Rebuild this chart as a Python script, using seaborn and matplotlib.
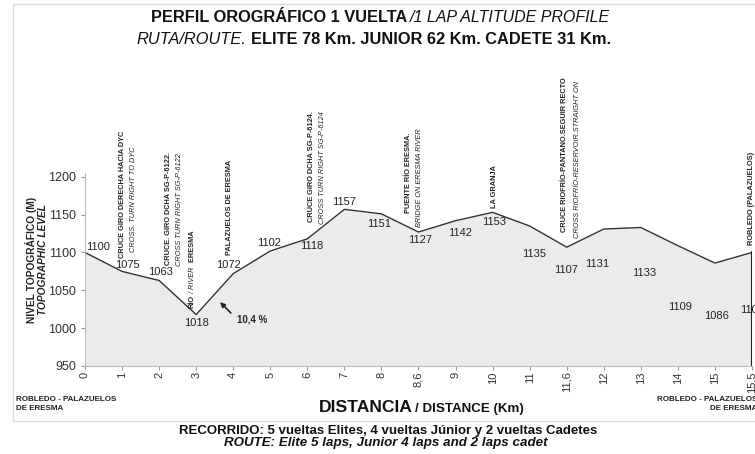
import matplotlib
matplotlib.use("Agg")
import matplotlib.pyplot as plt
import matplotlib.patches as mpatches
import numpy as np
import pandas as pd
import seaborn as sns

# distance marks along the lap (categorical axis) and altitude at each one
km_labels = ["0", "1", "2", "3", "4", "5", "6", "7", "8", "8,6", "9",
             "10", "11", "11,6", "12", "13", "14", "15", "15,5"]
altitude = [1100, 1075, 1063, 1018, 1072, 1102, 1118, 1157, 1151, 1127,
            1142, 1153, 1135, 1107, 1131, 1133, 1109, 1086, 1100]
# printed value labels (last one cut off in the original)
value_text = [str(v) for v in altitude]

# where the value labels sit relative to their point (pixels)
label_offsets = [(13, 5), (5, 6), (1, 8), (0, -8), (-5, 9), (-1, 8), (4, -7),
                 (0, 7), (-2, -10), (2, -8), (5, -12), (1, -10), (4, -28),
                 (-1, -23), (-7, -35), (3, -46), (2, -61), (2, -53), (0, -58)]

# vertical notes: (x position, bottom y, text, weight, style)
notes = [
    (1.0, 1093, "CRUCE GIRO DERECHA HACIA DYC", "bold", "normal"),
    (1.30, 1100, "CROSS. TURN RIGHT TO DYC", "normal", "italic"),
    (2.24, 1083, "CRUCE. GIRO DCHA SG-P-6122.", "bold", "normal"),
    (2.54, 1082, "CROSS TURN RIGHT SG-P-6122", "normal", "italic"),
    (3.91, 1097, "PALAZUELOS DE ERESMA", "bold", "normal"),
    (6.10, 1140, "CRUCE GIRO DCHA SG-P-6124.", "bold", "normal"),
    (6.40, 1138, "CROSS TURN RIGHT SG-P-6124", "normal", "italic"),
    (8.72, 1152, "PUENTE RÍO ERESMA.", "bold", "normal"),
    (9.04, 1134, "BRIDGE ON ERESMA RIVER", "normal", "italic"),
    (11.06, 1159, "LA GRANJA", "bold", "normal"),
    (12.95, 1127, "CRUCE RIOFRÍO-PANTANO.SEGUIR RECTO", "bold", "normal"),
    (13.30, 1119, "CROSS RIOFRÍO-RESERVOIR.STRAIGHT ON", "normal", "italic"),
    (18.0, 1110, "ROBLEDO (PALAZUELOS)", "bold", "normal"),
]

sns.set_style("white")
plt.rcParams['font.family'] = ['Liberation Sans', 'DejaVu Sans']
NOTE_FS = 5.3

df = pd.DataFrame({"pos": np.arange(len(altitude)), "alt": altitude})

fig = plt.figure(figsize=(7.55, 4.54), dpi=100)
ax = fig.add_axes([85 / 755, 1 - 366 / 454, 667 / 755, 193 / 454])

# light frame around the whole chart
fig.patches.append(mpatches.Rectangle((13 / 755, 1 - 421 / 454), 1.0, 417 / 454,
                                      transform=fig.transFigure, fill=False,
                                      edgecolor="#dcdcdc", lw=1))

ax.fill_between(df["pos"], df["alt"], 950, color="#ebebeb", lw=0)
sns.lineplot(data=df, x="pos", y="alt", ax=ax, color="#333333", lw=1)
ax.plot([df["pos"].iloc[-1]] * 2, [df["alt"].iloc[-1], 950], color="#222222", lw=1.5)

ax.set_xlim(0, len(altitude) - 1)
ax.set_ylim(950, 1205)
ax.set_yticks(range(950, 1201, 50))
ax.set_xticks(df["pos"])
ax.set_xticklabels(km_labels, rotation=90, fontsize=8, color="#333333")
ax.tick_params(axis="y", labelsize=9, colors="#333333", length=3, left=True, color="#999999")
ax.tick_params(axis="x", length=3, bottom=True, color="#999999", pad=1)
ax.set_xlabel("")
ax.set_ylabel("")
for s in ["top", "right"]:
    ax.spines[s].set_visible(False)
ax.spines["left"].set_color("#bbbbbb")
ax.spines["bottom"].set_color("#bbbbbb")

for i, (txt, off) in enumerate(zip(value_text, label_offsets)):
    ax.annotate(txt, (df["pos"].iloc[i], df["alt"].iloc[i]), xytext=off,
                textcoords="offset pixels", ha="center", va="center",
                fontsize=8, color="#222222", annotation_clip=False)

for x, y, txt, w, st in notes:
    ax.text(x, y, txt, rotation=90, ha="center", va="bottom", fontsize=NOTE_FS,
            fontweight=w, fontstyle=st, color="#222222", clip_on=False)

# "RÍO / RIVER  ERESMA" mixed styles, stacked upward
t1 = ax.text(2.89, 1027, "RÍO", rotation=90, ha="center", va="bottom", fontsize=NOTE_FS,
             fontweight="bold", color="#222222")
t2 = ax.annotate(" / RIVER ", xy=(0.5, 1), xycoords=t1, rotation=90, ha="center",
                 va="bottom", fontsize=NOTE_FS, fontstyle="italic", color="#222222")
ax.annotate(" ERESMA", xy=(0.5, 1), xycoords=t2, rotation=90, ha="center",
            va="bottom", fontsize=NOTE_FS, fontweight="bold", color="#222222")

# slope arrow
ax.annotate("", xy=(3.59, 1037), xytext=(3.99, 1017.5),
            arrowprops=dict(arrowstyle="-|>", color="#222222", lw=1.2, mutation_scale=7))
ax.text(4.1, 1011, "10,4 %", fontsize=7, fontweight="bold", va="center", ha="left", color="#222222")

# y axis title
fig.text(31 / 755, 1 - 260 / 454, "NIVEL TOPOGRÁFICO (M)", rotation=90, ha="center",
         va="center", fontsize=7.4, fontweight="bold", color="#222222")
fig.text(43 / 755, 1 - 260 / 454, "TOPOGRAPHIC LEVEL", rotation=90, ha="center",
         va="center", fontsize=7.3, fontweight="bold", fontstyle="italic", color="#222222")

# titles
fig.text(407 / 755, 1 - 18 / 454, "PERFIL OROGRÁFICO 1 VUELTA", ha="right", va="center",
         fontsize=11.8, fontweight="bold", color="#111111")
fig.text(410 / 755, 1 - 18 / 454, "/1 LAP ALTITUDE PROFILE", ha="left", va="center",
         fontsize=11.5, fontstyle="italic", color="#111111")
fig.text(246 / 755, 1 - 40 / 454, "RUTA/ROUTE.", ha="right", va="center",
         fontsize=11.8, fontstyle="italic", color="#111111")
fig.text(251 / 755, 1 - 40 / 454, "ELITE 78 Km. JUNIOR 62 Km. CADETE 31 Km.", ha="left",
         va="center", fontsize=11.8, fontweight="bold", color="#111111")

# start / finish names and x axis title
fig.text(16 / 755, 1 - 404 / 454, "ROBLEDO - PALAZUELOS\nDE ERESMA", ha="left", va="center",
         fontsize=5.8, fontweight="bold", linespacing=1.5, color="#222222")
fig.text(757 / 755, 1 - 404 / 454, "ROBLEDO - PALAZUELOS\nDE ERESMA", ha="right", va="center",
         fontsize=5.8, fontweight="bold", linespacing=1.5, multialignment="right", color="#222222")
fig.text(413 / 755, 1 - 408 / 454, "DISTANCIA", ha="right", va="center",
         fontsize=12.6, fontweight="bold", color="#111111")
fig.text(415 / 755, 1 - 409 / 454, "/ DISTANCE (Km)", ha="left", va="center",
         fontsize=9.6, fontweight="bold", color="#111111")

fig.text(388 / 755, 1 - 431 / 454, "RECORRIDO: 5 vueltas Elites, 4 vueltas Júnior y 2 vueltas Cadetes",
         ha="center", va="center", fontsize=9.5, fontweight="bold", color="#111111")
fig.text(386 / 755, 1 - 443 / 454, "ROUTE: Elite 5 laps, Junior 4 laps and 2 laps cadet",
         ha="center", va="center", fontsize=9.6, fontweight="bold", fontstyle="italic", color="#111111")

fig.savefig("out.png", dpi=100)
